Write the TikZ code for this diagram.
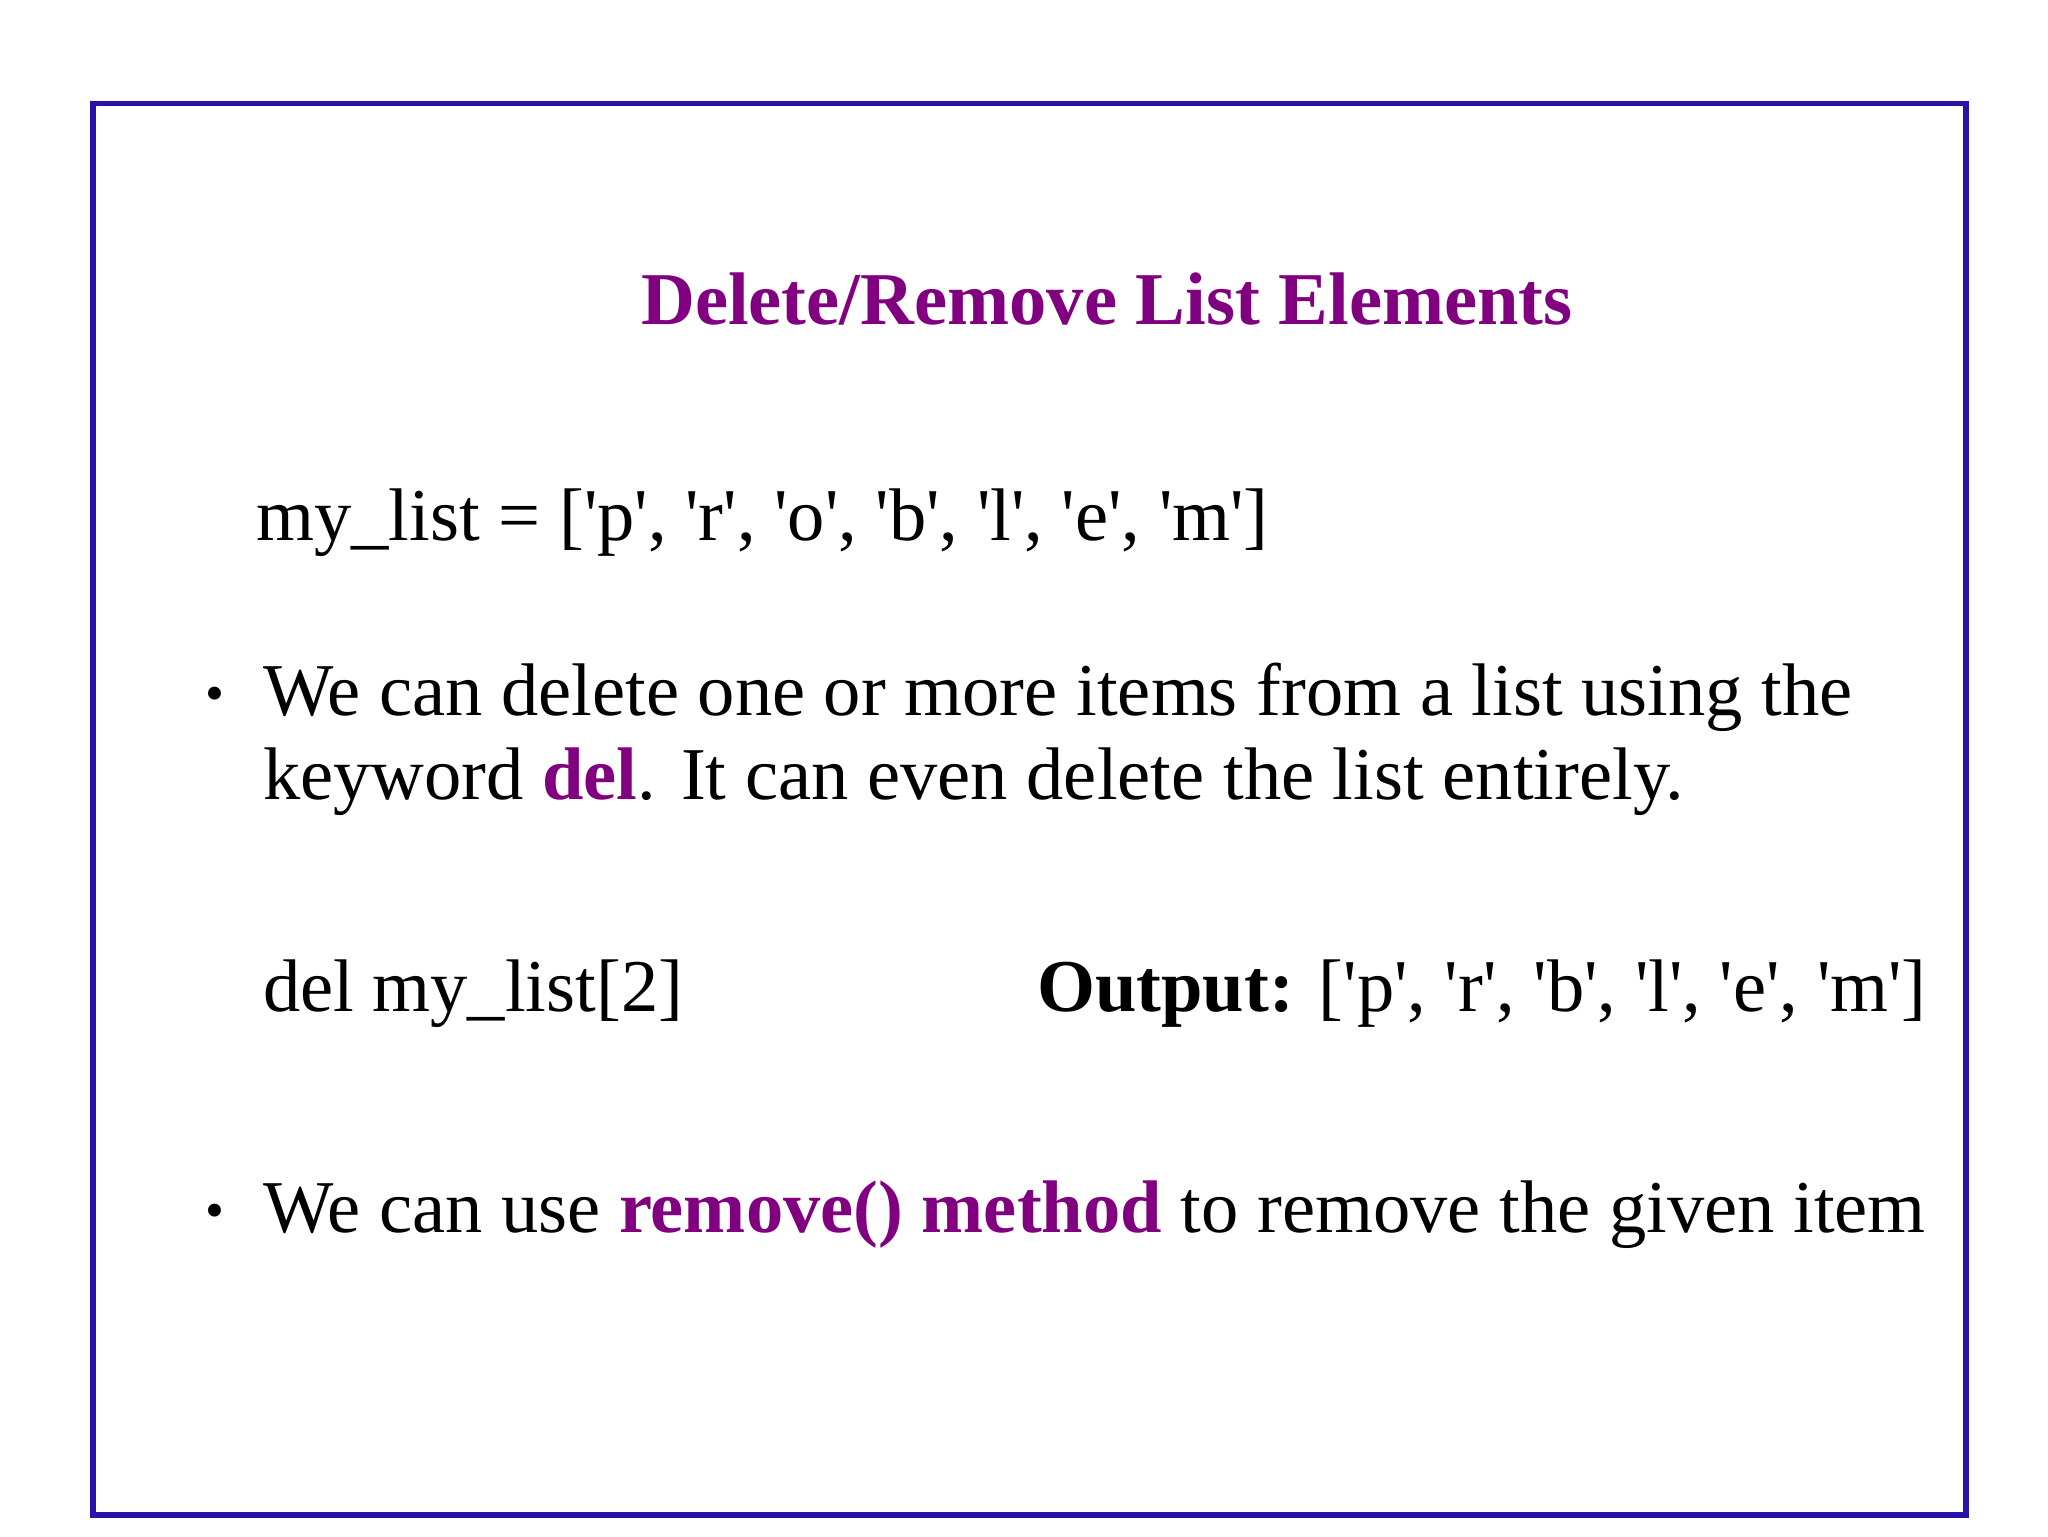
\documentclass[tikz,border=0pt]{standalone}
\usepackage{fontspec}
\setmainfont{Liberation Serif}[Ligatures=TeXOff]
\definecolor{pur}{RGB}{128,0,128}
\definecolor{frame}{RGB}{40,20,170}
\begin{document}
\begin{tikzpicture}[x=0.466pt,y=-0.466pt,
  txt/.style={anchor=base west,inner sep=0pt,font=\fontsize{26.2}{31}\selectfont},
  bul/.style={anchor=base,inner sep=0pt,font=\fontsize{19}{23}\selectfont}]
\useasboundingbox (0,0) rectangle (1545,1159);
\draw[frame,line width=2pt] (70,78) rectangle (1483,1143);
\node[txt,anchor=base,text=pur,font=\fontsize{26.2}{31}\selectfont\bfseries] (title) at (835,245) {Delete/Remove List Elements};
\node[txt] (ml) at (193,408) {my\_list = ['p', 'r', 'o', 'b', 'l', 'e', 'm']};
\node[bul] (b1) at (162,537) {•};
\node[txt] (l1) at (198,540) {We can delete one or more items from a list using the};
\node[txt] (l2) at (198,603) {keyword \textbf{\textcolor{pur}{del}}. It can even delete the list entirely.};
\node[txt] (d) at (198,763) {del my\_list[2]};
\node[txt] (o) at (782,763) {\textbf{Output:} ['p', 'r', 'b', 'l', 'e', 'm']};
\node[bul] (b2) at (162,927) {•};
\node[txt] (l3) at (198,930) {We can use \textbf{\textcolor{pur}{remove() method}} to remove the given item};
\end{tikzpicture}
\end{document}
